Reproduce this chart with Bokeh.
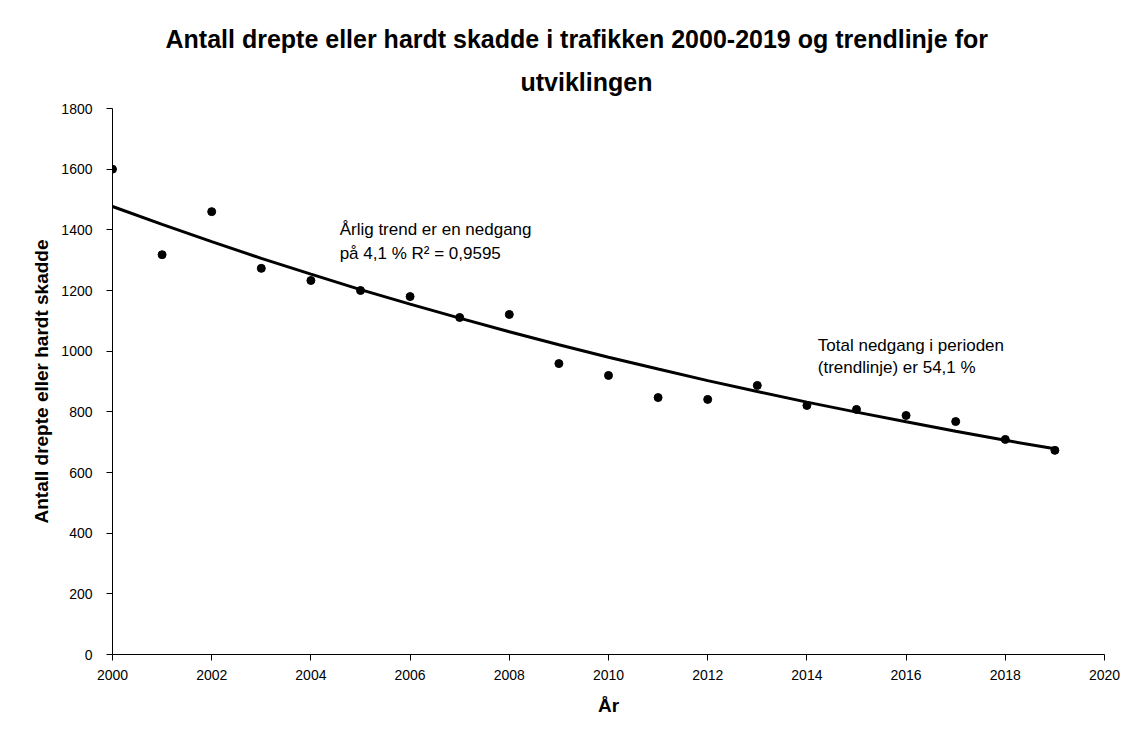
from bokeh.plotting import figure
from bokeh.models import Label, FixedTicker, Range1d, Title
from bokeh.embed import file_html
from bokeh.resources import INLINE

years = list(range(2000, 2020))
casualties = [1600, 1318, 1460, 1273, 1233, 1200, 1180, 1111, 1121, 959,
              920, 847, 841, 887, 821, 808, 788, 768, 709, 673]
trend = [1477, 1418, 1361, 1306, 1254, 1203, 1155, 1109, 1064, 1021,
         980, 941, 903, 867, 832, 799, 767, 736, 706, 678]
x_ticks = list(range(2000, 2021, 2))
y_ticks = list(range(0, 1801, 200))

title_lines = ["Antall drepte eller hardt skadde i trafikken 2000-2019 og trendlinje for",
               "utviklingen"]
note1 = ["Årlig trend  er en nedgang", "på 4,1 % R² = 0,9595"]
note2 = ["Total nedgang i perioden", "(trendlinje)  er 54,1 %"]

FONT = "Liberation Sans Narrow, Liberation Sans, sans-serif"

p = figure(width=1129, height=724, output_backend="svg", toolbar_location=None,
           x_range=Range1d(2000, 2020), y_range=Range1d(0, 1800),
           min_border_left=112, min_border_right=25, min_border_top=108, min_border_bottom=70)
p.outline_line_color = None
p.xgrid.grid_line_color = None
p.ygrid.grid_line_color = None

p.title.text = title_lines[0]
p.title.align = "left"
p.title.offset = 53
p.title.standoff = 9
p.title.text_font = FONT
p.title.text_font_size = "25px"
p.title.text_font_style = "bold"
p.title.text_color = "black"
p.add_layout(Title(text=title_lines[1], align="left", offset=408, standoff=21,
                   vertical_align="top",
                   text_font=FONT, text_font_size="25px", text_font_style="bold",
                   text_color="black"), "above")

p.line(years, trend, line_color="black", line_width=3)
p.scatter(years, casualties, size=8, fill_color="black", line_color="black")

for ax, ticks in ((p.xaxis, x_ticks), (p.yaxis, y_ticks)):
    ax.ticker = FixedTicker(ticks=ticks)
    ax.minor_tick_line_color = None
    ax.major_tick_in = 0
    ax.major_tick_out = 6
    ax.axis_line_color = "black"
    ax.major_tick_line_color = "black"
    ax.major_label_text_font = FONT
    ax.major_label_text_font_size = "14px"
    ax.major_label_text_color = "black"
    ax.axis_label_text_font = FONT
    ax.axis_label_text_font_style = "bold"
    ax.axis_label_text_font_size = "19px"
    ax.axis_label_text_color = "black"

p.xaxis.axis_label = "År"
p.yaxis.axis_label = "Antall drepte eller hardt skadde"
p.xaxis.major_label_standoff = 9
p.yaxis.major_label_standoff = 14
p.xaxis.axis_label_standoff = 12
p.yaxis.axis_label_standoff = 6

for txt, yv in zip(note1, [1401, 1322]):
    p.add_layout(Label(x=2004.58, y=yv, text=txt, text_align="left", text_baseline="middle",
                       text_font=FONT, text_font_size="17px", text_color="black"))
for txt, yv in zip(note2, [1020, 945]):
    p.add_layout(Label(x=2014.22, y=yv, text=txt, text_align="left", text_baseline="middle",
                       text_font=FONT, text_font_size="17px", text_color="black"))

open("out.html", "w").write(file_html(p, INLINE))
